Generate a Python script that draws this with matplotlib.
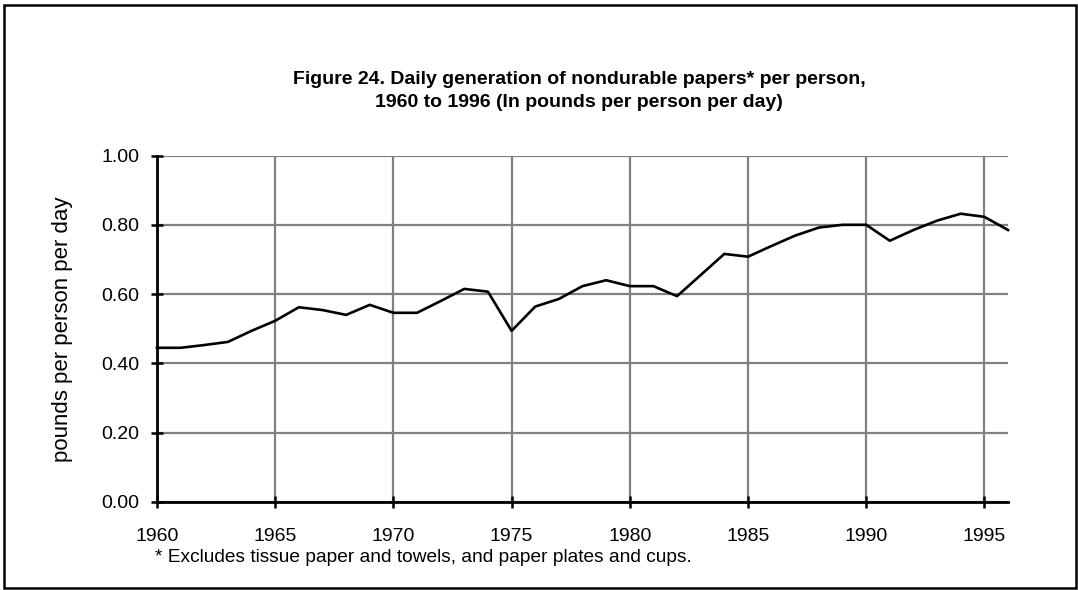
import matplotlib
matplotlib.use("Agg")
import matplotlib.pyplot as plt
from matplotlib.patches import Rectangle

years = list(range(1960, 1997))
pounds_per_day = [0.445, 0.445, 0.453, 0.462, 0.494, 0.523, 0.562, 0.554, 0.540, 0.569,
                  0.546, 0.546, 0.580, 0.615, 0.607, 0.494, 0.564, 0.586, 0.623, 0.640,
                  0.623, 0.623, 0.594, 0.655, 0.716, 0.708, 0.739, 0.769, 0.792, 0.800,
                  0.800, 0.754, 0.785, 0.812, 0.832, 0.823, 0.785]
xticks = [1960, 1965, 1970, 1975, 1980, 1985, 1990, 1995]
yticks = [0.0, 0.2, 0.4, 0.6, 0.8, 1.0]

title = "Figure 24. Daily generation of nondurable papers* per person,\n1960 to 1996 (In pounds per person per day)"
ylabel = "pounds per person per day"
footnote = "* Excludes tissue paper and towels, and paper plates and cups."

plt.rcParams['font.family'] = ['Liberation Sans', 'DejaVu Sans']

fig = plt.figure(figsize=(10.78, 5.90), dpi=100)
ax = fig.add_axes([157/1078, 88/590, (1008-157)/1078, (502-155.5)/590])

ax.plot(years, pounds_per_day, color='black', linewidth=1.9, zorder=3, clip_on=False)

ax.set_xlim(1960, 1996)
ax.set_ylim(0, 1.0)
ax.set_xticks(xticks)
ax.set_yticks(yticks)
ax.set_yticklabels([f"{v:.2f}" for v in yticks])
ax.grid(True, color='#808080', linewidth=1.6, zorder=1)
ax.set_axisbelow(True)

for s in ['top', 'right']:
    ax.spines[s].set_visible(False)
for s in ['left', 'bottom']:
    ax.spines[s].set_linewidth(2.0)
    ax.spines[s].set_zorder(4)

ax.tick_params(axis='both', direction='inout', length=9, width=1.8, colors='black',
               labelsize=14)
ax.tick_params(axis='x', pad=14)
ax.tick_params(axis='y', pad=8)

ax.set_ylabel(ylabel, fontsize=16)
ax.yaxis.set_label_coords((73-157)/851, 0.5)

fig.text(579/1078, 1 - 91/590, title, ha='center', va='center', fontsize=14,
         fontweight='bold', linespacing=1.5)
fig.text(155/1078, 1 - 557/590, footnote, ha='left', va='center', fontsize=13.8)

fig.patches.append(Rectangle((4/1078, 2/590), 1072/1078, 583/590, transform=fig.transFigure,
                             fill=False, edgecolor='black', linewidth=1.8))

fig.savefig("out.png", dpi=100)
